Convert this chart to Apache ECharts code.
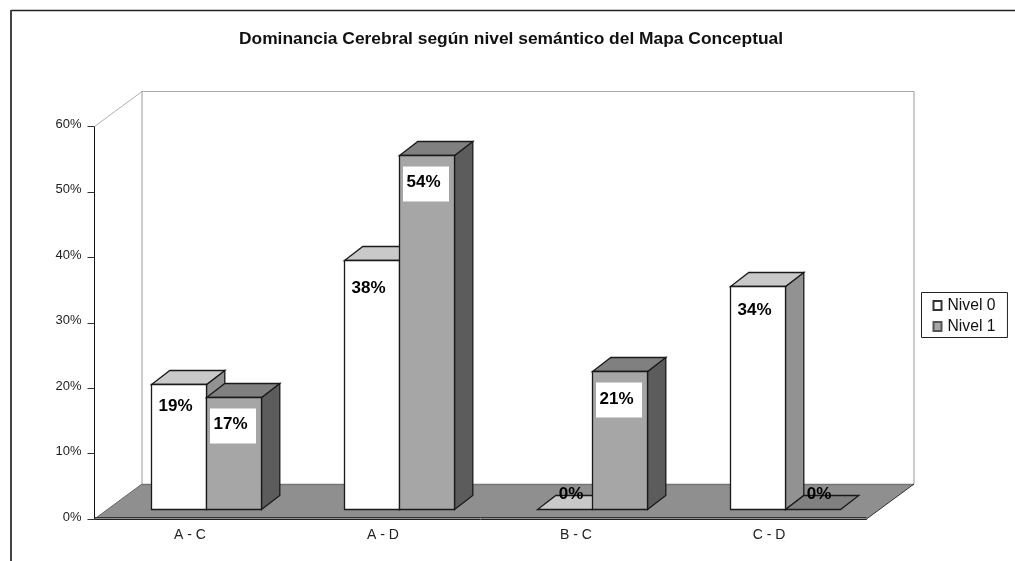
<!DOCTYPE html>
<html><head><meta charset="utf-8">
<style>html,body{margin:0;padding:0;background:#fff}#c{width:1015px;height:561px}</style>
<script src="https://cdn.jsdelivr.net/npm/echarts@6/dist/echarts.min.js"></script>
</head><body><div id="c"></div>
<script>
const categories = ['A - C', 'A - D', 'B - C', 'C - D'];
const nivel0 = [19, 38, 0, 34];
const nivel1 = [17, 54, 21, 0];
const yTicks = [0, 10, 20, 30, 40, 50, 60];
const titleText = 'Dominancia Cerebral según nivel semántico del Mapa Conceptual';

const FONT = '"Liberation Sans", Arial, sans-serif';
const wallDepth = {dx: 47.5, dy: 35};
const barDepth = {dx: 18.3, dy: 14};
const barShift = {dx: 14.8, dy: 9.7};
const barW = 55;
const palette = [
  {front: '#ffffff', top: '#c9c9c9', side: '#929292'},
  {front: '#a6a6a6', top: '#808080', side: '#5c5c5c'}
];
const EDGE = {stroke: '#1a1a1a', lineWidth: 1.3};
// Hand-placed vertical drift of the original's data labels, per series then category.
const labelDrift = [[-5, 1, 0, -3], [0, 0, 1, 0]];

function poly(points, fill, stroke, z2) {
  return {type: 'polygon', shape: {points}, z2: z2 || 0,
    style: {fill, stroke: stroke === undefined ? EDGE.stroke : stroke, lineWidth: EDGE.lineWidth, lineJoin: 'miter'}};
}
function seg(x1, y1, x2, y2, stroke, lineWidth) {
  return {type: 'line', shape: {x1, y1, x2, y2}, style: {stroke, lineWidth: lineWidth || 1}};
}

function renderScene(params) {
  const g = params.coordSys;
  const L = g.x, R = g.x + g.width, T = g.y, B = g.y + g.height;
  const bx = wallDepth.dx, by = wallDepth.dy;
  return {type: 'group', children: [
    poly([[L, B], [R, B], [R + bx, B - by], [L + bx, B - by]], '#8f8f8f', 'none'),
    seg(L + bx, B - by + .5, R + bx, B - by + .5, '#767676', 1.5),
    seg(R, B, R + bx, B - by, '#333', 1),
    seg(L, B, L + bx, B - by, '#666', 1),
    seg(L, T, L + bx, T - by, '#b0b0b0', 1),
    seg(L + bx, T - by, L + bx, B - by, '#a8a8a8', 1.2),
    seg(L + bx, T - by, R + bx, T - by, '#a8a8a8', 1.2),
    seg(R + bx, T - by, R + bx, B - by, '#a8a8a8', 1.2),
    seg(L, B - 1.5, R, B - 1.5, '#333', 1)
  ]};
}

function makeBarRenderer(seriesIndex) {
  const c = palette[seriesIndex];
  return function (params, api) {
    const cat = api.value(0), v = api.value(1);
    const top = api.coord([cat, v]);
    const base = api.coord([cat, 0]);
    const x0 = Math.round(base[0] + barShift.dx + (seriesIndex - 1) * barW) + .5;
    const x1 = x0 + barW;
    const yB = Math.round(base[1] - barShift.dy) + .5;
    const yT = Math.round(top[1] - barShift.dy) - .5;
    const dx = barDepth.dx, dy = barDepth.dy;
    const children = [];
    if (v > 0) {
      children.push(poly([[x1, yB], [x1 + dx, yB - dy], [x1 + dx, yT - dy], [x1, yT]], c.side));
      children.push(poly([[x0, yT], [x1, yT], [x1 + dx, yT - dy], [x0 + dx, yT - dy]], c.top));
      children.push(poly([[x0, yB], [x1, yB], [x1, yT], [x0, yT]], c.front));
      children.push({type: 'rect', z2: 40,
        shape: {x: x0 + 3.5, y: yT + 11, width: 46, height: 35},
        style: {fill: '#fff'}});
    } else {
      children.push(poly([[x0, yB], [x1, yB], [x1 + dx, yB - dy], [x0 + dx, yB - dy]], c.top));
    }
    const lx = v > 0 ? x0 + 24 : x0 + barW / 2 + 6;
    const ly = v > 0 ? yT + 26.5 + labelDrift[seriesIndex][cat] : yB - 15;
    children.push({
      type: 'text', z2: 50,
      style: {
        text: v + '%', x: lx, y: ly, align: 'center', verticalAlign: 'middle',
        font: 'bold 17px ' + FONT, fill: '#000'
      }
    });
    return {type: 'group', children};
  };
}

const barSeries = [nivel0, nivel1].map((vals, i) => ({
  type: 'custom', name: 'Nivel ' + i, coordinateSystem: 'cartesian2d', clip: false,
  z: 3, silent: true, renderItem: makeBarRenderer(i),
  encode: {x: 0, y: 1},
  itemStyle: {color: i ? '#a6a6a6' : '#fff', borderColor: i ? '#555' : '#333', borderWidth: 0.8},
  data: vals.map((v, k) => [k, v])
}));

const chart = echarts.init(document.getElementById('c'), null, {renderer: 'canvas'});
chart.setOption({
  animation: false,
  backgroundColor: '#fff',
  title: {
    text: titleText, left: 506, top: 26, textAlign: 'center',
    textStyle: {fontFamily: FONT, fontSize: 17.4, fontWeight: 'bold', color: '#111'}
  },
  legend: {
    orient: 'vertical', left: 921.5, top: 292.5, width: 87,
    data: ['Nivel 0', 'Nivel 1'], selectedMode: false,
    borderColor: '#222', borderWidth: 1, padding: [5, 12, 3, 11],
    itemWidth: 8, itemHeight: 9, itemGap: 5, icon: 'rect',
    textStyle: {fontFamily: FONT, fontSize: 15.7, color: '#111', padding: [0, 0, 0, 1]}
  },
  grid: {left: 94.5, top: 126.5, width: 772, height: 392.5, containLabel: false},
  xAxis: {
    type: 'category', data: categories, boundaryGap: true,
    axisLine: {lineStyle: {color: '#222', width: 1}},
    axisTick: {length: 7, lineStyle: {color: '#222'}},
    axisLabel: {fontFamily: FONT, fontSize: 14, color: '#222', margin: 8, padding: [1, 2, 0, 0]}
  },
  yAxis: {
    type: 'value', min: 0, max: yTicks[yTicks.length - 1], interval: yTicks[1] - yTicks[0],
    axisLine: {show: true, lineStyle: {color: '#111', width: 1}},
    axisTick: {show: true, length: 7, lineStyle: {color: '#333'}},
    splitLine: {show: false},
    axisLabel: {fontFamily: FONT, fontSize: 13, color: '#222', margin: 13, verticalAlign: 'bottom', lineHeight: 4, formatter: '{value}%'}
  },
  graphic: [
    {type: 'line', z: 10, shape: {x1: 11, y1: 10.5, x2: 1015, y2: 10.5}, style: {stroke: '#222', lineWidth: 1.4}},
    {type: 'line', z: 10, shape: {x1: 11, y1: 10, x2: 11, y2: 561}, style: {stroke: '#444', lineWidth: 2}}
  ],
  series: [
    {type: 'custom', name: 'scene', coordinateSystem: 'cartesian2d', clip: false, z: 1, silent: true,
     renderItem: renderScene, data: [[0, 0]]}
  ].concat(barSeries)
});
</script></body></html>
